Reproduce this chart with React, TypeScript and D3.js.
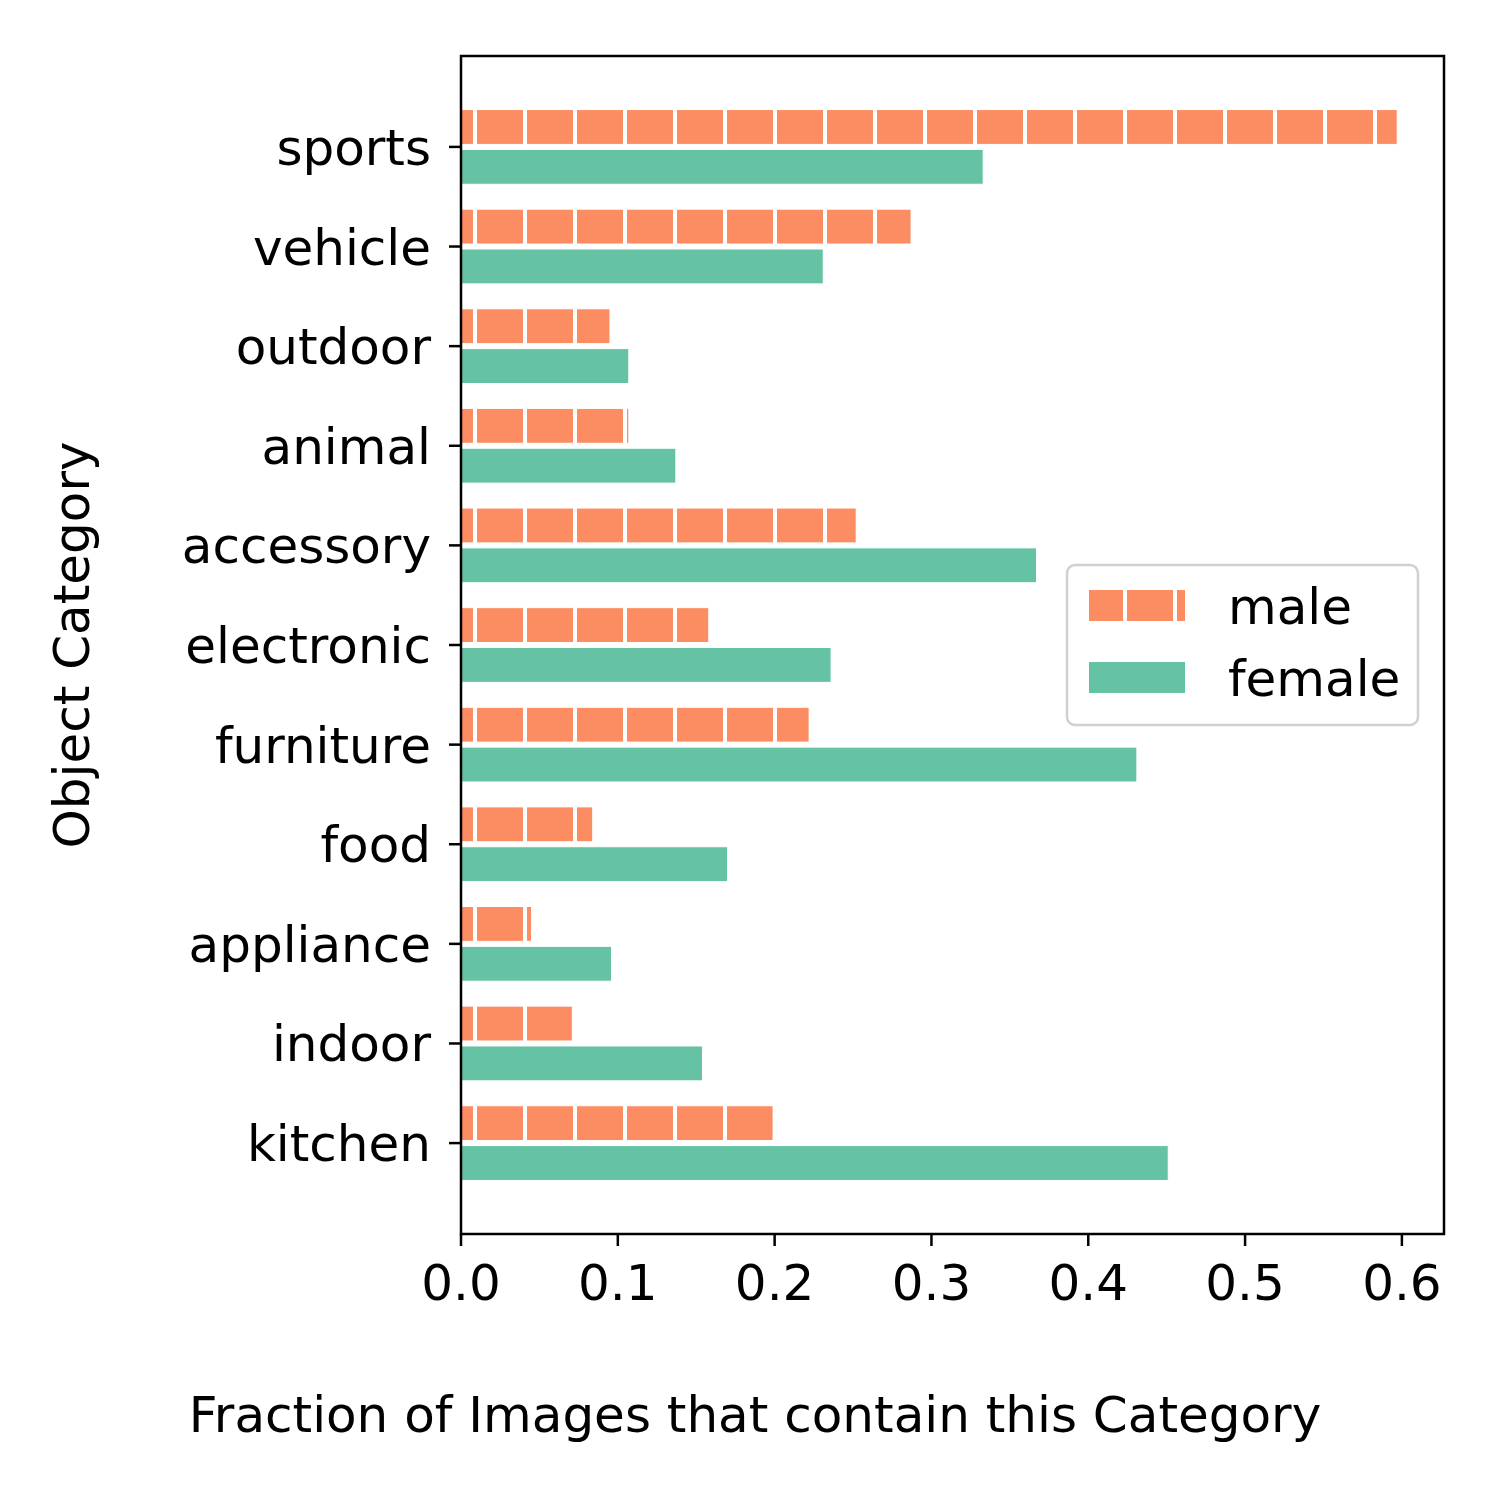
import React from "react";
import * as d3 from "d3";

const categories = ["sports", "vehicle", "outdoor", "animal", "accessory", "electronic", "furniture", "food", "appliance", "indoor", "kitchen"];
const maleValues = [0.597, 0.287, 0.095, 0.107, 0.252, 0.158, 0.222, 0.084, 0.045, 0.071, 0.199];
const femaleValues = [0.333, 0.231, 0.107, 0.137, 0.367, 0.236, 0.431, 0.170, 0.096, 0.154, 0.451];
const xTicks = [0, 0.1, 0.2, 0.3, 0.4, 0.5, 0.6];
const seriesNames = ["male", "female"];

const W = 1500, H = 1500;
const left = 461, right = 1444, top = 56, bottom = 1234;
const MALE = "#fc8d62", FEMALE = "#66c2a5";
const FONT = "DejaVu Sans, sans-serif";

export default function App() {
  const n = categories.length;
  const barH = 0.35, off = 0.2;
  const yMinD = -off - barH / 2, yMaxD = n - 1 + off + barH / 2;
  const yPad = (yMaxD - yMinD) * 0.05;
  const y = d3.scaleLinear().domain([yMinD - yPad, yMaxD + yPad]).range([bottom, top]);
  const xMax = d3.max(maleValues.concat(femaleValues))! * 1.05;
  const x = d3.scaleLinear().domain([0, xMax]).range([left, right]);
  const idx = (i: number) => n - 1 - i;
  const bh = Math.abs(y(0) - y(barH));
  const fs = 50;

  return (
    <svg width={W} height={H} style={{ position: "absolute", left: 0, top: 0, background: "#fff" }} fontFamily={FONT}>
      <defs>
        <pattern id="hatch" patternUnits="userSpaceOnUse" width={50} height={10} x={0} y={0}>
          <rect x={0} y={0} width={50} height={10} fill={MALE} />
          <rect x={23} y={0} width={4} height={10} fill="#fff" />
        </pattern>
        <clipPath id="plotclip">
          <rect x={left} y={top} width={right - left} height={bottom - top} />
        </clipPath>
      </defs>
      <rect x={0} y={0} width={W} height={H} fill="#fff" />
      <g clipPath="url(#plotclip)">
        {categories.map((c, i) => {
          const yc = idx(i);
          return (
            <g key={c}>
              <rect x={x(0)} y={y(yc + off + barH / 2)} width={x(maleValues[i]) - x(0)} height={bh}
                fill="url(#hatch)" stroke="#fff" strokeWidth={1} />
              <rect x={x(0)} y={y(yc - off + barH / 2)} width={x(femaleValues[i]) - x(0)} height={bh}
                fill={FEMALE} stroke="#fff" strokeWidth={1} />
            </g>
          );
        })}
      </g>
      <rect x={left} y={top} width={right - left} height={bottom - top} fill="none" stroke="#000" strokeWidth={2.5} />
      {categories.map((c, i) => {
        const yy = y(idx(i));
        return (
          <g key={"yt" + c}>
            <line x1={left - 12} x2={left} y1={yy} y2={yy} stroke="#000" strokeWidth={2.5} />
            <text x={left - 30} y={yy} dy="0.36em" textAnchor="end" fontSize={fs} fill="#000">{c}</text>
          </g>
        );
      })}
      {xTicks.map((t) => (
        <g key={"xt" + t}>
          <line x1={x(t)} x2={x(t)} y1={bottom} y2={bottom + 12} stroke="#000" strokeWidth={2.5} />
          <text x={x(t)} y={bottom + 66} textAnchor="middle" fontSize={fs} fill="#000">{d3.format(".1f")(t)}</text>
        </g>
      ))}
      <text x={755} y={1432} textAnchor="middle" fontSize={fs} fill="#000">Fraction of Images that contain this Category</text>
      <text transform={`translate(89,${(top + bottom) / 2}) rotate(-90)`} textAnchor="middle" fontSize={fs} fill="#000">Object Category</text>
      <rect x={1067} y={565} width={351} height={160} rx={8} fill="#fff" fillOpacity={0.8} stroke="#d0d0d0" strokeWidth={2.5} />
      {seriesNames.map((s, k) => {
        const ly = 590 + k * 72;
        return (
          <g key={s}>
            <rect x={1089} y={ly} width={96} height={31} fill={k === 0 ? "url(#hatch)" : FEMALE} />
            <text x={1228} y={ly + 16} dy="0.36em" fontSize={fs} fill="#000">{s}</text>
          </g>
        );
      })}
    </svg>
  );
}
